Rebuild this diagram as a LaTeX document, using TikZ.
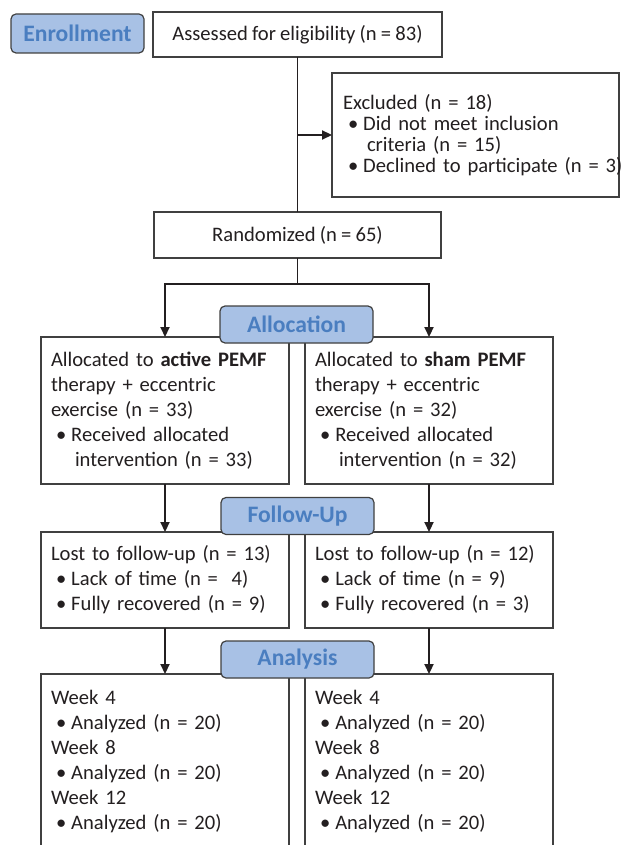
\documentclass[tikz,border=0pt]{standalone}
\usepackage{fontspec}
\setmainfont{Carlito}[WordSpace=0.9]
\usetikzlibrary{arrows.meta, positioning}
\definecolor{stagefill}{RGB}{168,193,229}
\definecolor{stagetext}{RGB}{74,126,192}
\definecolor{edgegray}{RGB}{64,64,64}
\definecolor{inkgray}{RGB}{35,31,32}

\newcommand{\bul}{\hspace*{2.5pt}\textbullet\hspace{2.5pt}}
\newcommand{\cont}{\hspace*{12pt}}

\begin{document}
\begin{tikzpicture}[x=0.5pt, y=-0.5pt,
  font=\fontsize{10.3}{12.5}\selectfont, text=inkgray,
  box/.style={draw=edgegray, line width=0.6pt, fill=white, outer sep=0pt, inner xsep=5pt, inner ysep=0pt},
  flowbox/.style={box, anchor=north west, text width=114pt, align=left},
  stage/.style={draw=edgegray, line width=0.6pt, rounded corners=2.5pt, fill=stagefill, text=stagetext,
                font=\fontsize{11.8}{14}\selectfont\bfseries, minimum width=76.5pt, minimum height=18.5pt, outer sep=0pt},
  link/.style={draw=inkgray, line width=0.6pt},
  arr/.style={draw=inkgray, line width=1.1pt, -{Triangle[length=5pt, width=4.5pt]}}]
  \clip (0,0) rectangle (622,845);

  \node[box, minimum width=144.5pt, minimum height=22.5pt] (assess) at (297.5,34.5) {Assessed for eligibility (n = 83)};
  \node[box, anchor=north west, text width=132.5pt, align=left, minimum height=62pt, inner xsep=5.5pt,
        font=\fontsize{10.3}{10.5}\selectfont] (excl) at (332,73)
    {Excluded (n = 18)\\ \bul Did not meet inclusion\\ \cont criteria (n = 15)\\ \mbox{\bul Declined to participate (n = 3)}};
  \node[box, minimum width=143.5pt, minimum height=23pt] (rand) at (297.5,235) {Randomized (n = 65)};

  \node[flowbox, minimum height=73.5pt] (activebox) at (41,337)
    {Allocated to \textbf{active PEMF}\\ therapy + eccentric\\ exercise (n = 33)\\ \bul Received allocated\\ \cont intervention (n = 33)};
  \node[flowbox, minimum height=73.5pt, right=8pt of activebox] (shambox)
    {Allocated to \textbf{sham PEMF}\\ therapy + eccentric\\ exercise (n = 32)\\ \bul Received allocated\\ \cont intervention (n = 32)};
  \node[flowbox, minimum height=48pt, below=24pt of activebox] (lostA)
    {Lost to follow-up (n = 13)\\ \bul Lack of time (n =\ \ 4)\\ \bul Fully recovered (n = 9)};
  \node[flowbox, minimum height=48pt, below=24pt of shambox] (lostS)
    {Lost to follow-up (n = 12)\\ \bul Lack of time (n = 9)\\ \bul Fully recovered (n = 3)};
  \node[flowbox, minimum height=87.5pt, below=23pt of lostA] (weekA)
    {Week 4\\ \bul Analyzed (n = 20)\\ Week 8\\ \bul Analyzed (n = 20)\\ Week 12\\ \bul Analyzed (n = 20)};
  \node[flowbox, minimum height=87.5pt, below=23pt of lostS] (weekS)
    {Week 4\\ \bul Analyzed (n = 20)\\ Week 8\\ \bul Analyzed (n = 20)\\ Week 12\\ \bul Analyzed (n = 20)};

  \draw[link] (assess.south) -- (rand.north);
  \draw[arr] (assess.south |- excl.west) -- (excl.west);
  \coordinate (split) at (297.5,284);
  \draw[link] (rand.south) -- (split);
  \draw[arr] (split) -| (activebox.north);
  \draw[arr] (split) -| (shambox.north);
  \foreach \from/\to in {activebox/lostA, lostA/weekA, shambox/lostS, lostS/weekS}
    \draw[arr] (\from) -- (\to);

  \node[stage, minimum width=66.5pt, minimum height=19.5pt] (enroll) at (77.5,33.5) {Enrollment};
  \node[stage] (allocstage) at (296.5,324.5) {Allocation};
  \node[stage] (followstage) at (297.5,516) {Follow-Up};
  \node[stage] (analysisstage) at (297.5,659.5) {Analysis};
\end{tikzpicture}
\end{document}
